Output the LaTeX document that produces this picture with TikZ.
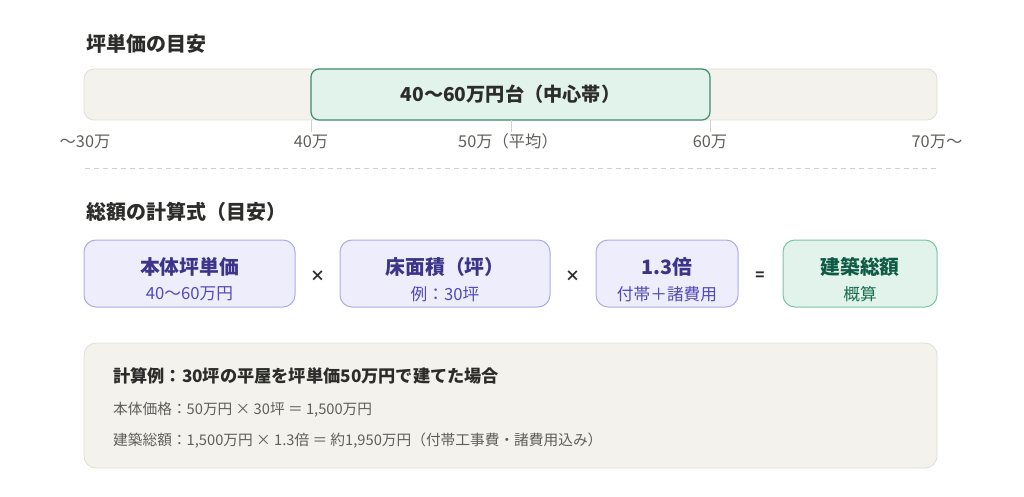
\documentclass[tikz,border=0pt]{standalone}
\usepackage{fontspec}
\setmainfont{Noto Sans CJK JP}
\usetikzlibrary{positioning}

\definecolor{ink}{HTML}{2C2C2A}
\definecolor{muted}{HTML}{5F5E5A}
\definecolor{barfill}{HTML}{F3F2EC}
\definecolor{barline}{HTML}{E0DED6}
\definecolor{bandfill}{HTML}{E1F3EA}
\definecolor{bandline}{HTML}{3F8C70}
\definecolor{tickline}{HTML}{D3D1C7}
\definecolor{termfill}{HTML}{EEEDFC}
\definecolor{termline}{HTML}{AFA9EC}
\definecolor{termdark}{HTML}{3C3489}
\definecolor{termsoft}{HTML}{534AB7}
\definecolor{sumline}{HTML}{7CC2A6}
\definecolor{sumdark}{HTML}{0F5A45}
\definecolor{sumsoft}{HTML}{1D6E55}

\begin{document}
\begin{tikzpicture}[x=1pt,y=-1pt,
    heading/.style={anchor=west,inner sep=0pt,text=ink,font=\fontsize{20}{23}\selectfont\bfseries},
    bar/.style={draw=barline,fill=barfill,line width=0.8pt,rounded corners=10pt},
    band/.style={draw=bandline,fill=bandfill,line width=1.2pt,rounded corners=8pt,
      text=ink,font=\fontsize{19.2}{22}\selectfont\bfseries},
    tickmark/.style={draw=tickline,line width=0.8pt},
    ticklabel/.style={inner sep=0pt,text=muted,font=\fontsize{16.3}{19}\selectfont},
    termbox/.style={draw=termline,fill=termfill,line width=1pt,rounded corners=12pt,
      minimum height=67pt},
    termmain/.style={inner sep=0pt,text=termdark,font=\fontsize{19.8}{23}\selectfont\bfseries},
    termsub/.style={inner sep=0pt,text=termsoft,font=\fontsize{16.7}{19}\selectfont},
    sumbox/.style={termbox,draw=sumline,fill=bandfill},
    opsign/.style={inner sep=0pt,text=ink,font=\fontsize{15}{18}\selectfont\bfseries},
    panel/.style={draw=barline,fill=barfill,line width=0.8pt,rounded corners=12pt},
    linebig/.style={anchor=west,inner sep=0pt,text=ink,font=\fontsize{17.2}{21}\selectfont\bfseries},
    linesmall/.style={anchor=west,inner sep=0pt,text=muted,font=\fontsize{14.7}{18}\selectfont}]
  \path[use as bounding box] (0,0) rectangle (1024,497);

  % price band
  \node[heading] (head1) at (86,44) {坪単価の目安};
  \node[bar,minimum width=853pt,minimum height=51pt] (scale) at (510.5,94.5) {};
  \node[band,minimum width=399pt,minimum height=51pt] (mid) at (510.5,94.5) {40〜60万円台（中心帯）};
  \coordinate (t40) at (311,120);
  \coordinate (t50) at (511,120);
  \coordinate (t60) at (710,120);
  \draw[tickmark] (t40) -- ++(0,12);
  \draw[tickmark] (t50) -- ++(0,12);
  \draw[tickmark] (t60) -- ++(0,12);
  \node[ticklabel] (l30) at (85,141.5) {〜30万};
  \node[ticklabel] (l40) at (311,141.5) {40万};
  \node[ticklabel] (l50) at (508,141.5) {50万（平均）};
  \node[ticklabel] (l60) at (710,141.5) {60万};
  \node[ticklabel] (l70) at (937,141.5) {70万〜};
  \coordinate (sepL) at (85,168);
  \coordinate (sepR) at (937,168);
  \draw[tickline,line width=0.8pt,dash pattern=on 5pt off 4pt] (sepL) -- (sepR);

  % formula
  \node[heading] (head2) at (86,212) {総額の計算式（目安）};
  \node[termbox,minimum width=211pt] (unit) at (189.5,273.5) {};
  \node[termmain] (unitA) at (189.5,267) {本体坪単価};
  \node[termsub] (unitB) at (189.5,294) {40〜60万円};
  \node[opsign] (x1) at (317.5,276) {×};
  \node[termbox,minimum width=210pt] (area) at (445,273.5) {};
  \node[termmain] (areaA) at (445,267) {床面積（坪）};
  \node[termsub] (areaB) at (445,294) {例：30坪};
  \node[opsign] (x2) at (572.5,276) {×};
  \node[termbox,minimum width=142pt] (rate) at (667,273.5) {};
  \node[termmain] (rateA) at (667,267) {1.3倍};
  \node[termsub] (rateB) at (667,294) {付帯＋諸費用};
  \node[opsign] (eq) at (760,276) {=};
  \node[sumbox,minimum width=154pt] (total) at (860,273.5) {};
  \node[termmain,text=sumdark] (totalA) at (860,267) {建築総額};
  \node[termsub,text=sumsoft] (totalB) at (860,294) {概算};

  % example
  \node[panel,minimum width=853pt,minimum height=125pt] (case) at (510.5,405.5) {};
  \node[linebig] (case1) at (113,376) {計算例：30坪の平屋を坪単価50万円で建てた場合};
  \node[linesmall] (case2) at (113,410) {本体価格：50万円 × 30坪 ＝ 1,500万円};
  \node[linesmall] (case3) at (113,441) {建築総額：1,500万円 × 1.3倍 ＝ 約1,950万円（付帯工事費・諸費用込み）};
\end{tikzpicture}
\end{document}
